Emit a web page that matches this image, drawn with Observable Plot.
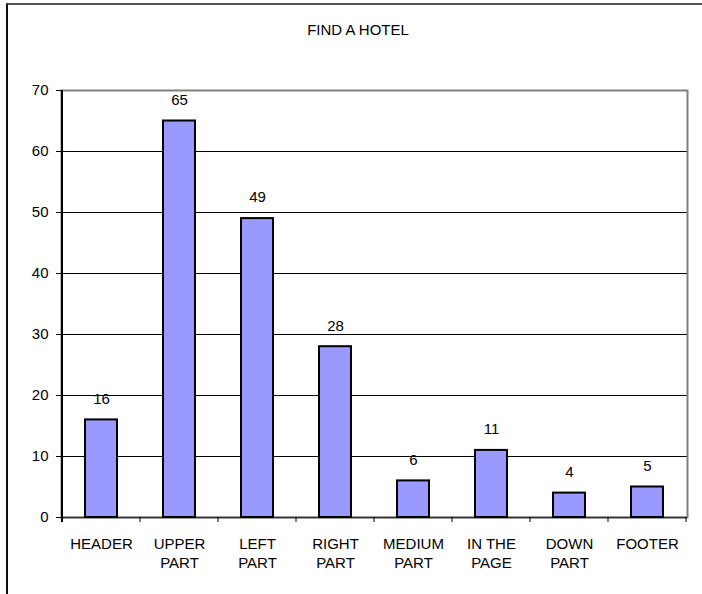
<!DOCTYPE html>
<html>
<head>
<meta charset="utf-8">
<script src="https://cdn.jsdelivr.net/npm/d3@7"></script>
<script src="https://cdn.jsdelivr.net/npm/@observablehq/plot@0.6"></script>
<style>
  html, body { margin: 0; padding: 0; background: #fff; }
  #page { position: relative; width: 702px; height: 594px; overflow: hidden;
          font-family: "Liberation Sans", Arial, sans-serif; }
  #border { position: absolute; left: 6px; top: 3px; right: -10px; bottom: -10px;
            border-top: 2px solid #555; border-left: 2px solid #111; }
  #title { position: absolute; left: 0; width: 716px; top: 21px; line-height: 17px;
           text-align: center; font-size: 15px; color: #000; }
  #chart { position: absolute; left: 0; top: 0; }
</style>
</head>
<body>
<div id="page">
  <div id="border"></div>
  <div id="title">FIND A HOTEL</div>
  <div id="chart"></div>
</div>
<script>
// Where visitors look for the hotel search on a page
const categories = ["HEADER", "UPPER PART", "LEFT PART", "RIGHT PART",
                    "MEDIUM PART", "IN THE PAGE", "DOWN PART", "FOOTER"];
const values = [16, 65, 49, 28, 6, 11, 4, 5];
const yTicks = [0, 10, 20, 30, 40, 50, 60, 70];

const data = categories.map((category, i) => ({category, value: values[i]}));

// break a two-word label onto two lines at its last space
const wrap = c => c.replace(/ (\S+)$/, "\n$1");

const plot = Plot.plot({
  width: 702,
  height: 594,
  marginLeft: 61,
  marginRight: 15,
  marginTop: 90,
  marginBottom: 77,
  style: {fontFamily: "'Liberation Sans', Arial, sans-serif", fontSize: "15px",
          color: "#000", background: "transparent", overflow: "visible"},
  x: {domain: categories, paddingInner: 0.59, paddingOuter: 0.295, align: 0.5},
  y: {domain: [0, 70]},
  marks: [
    Plot.gridY(yTicks.filter(t => t > 0 && t < 70), {stroke: "#000", strokeOpacity: 1, strokeWidth: 1}),
    Plot.frame({stroke: "#808080", strokeWidth: 2}),
    Plot.ruleY([0], {stroke: "#333", strokeWidth: 1.5}),
    Plot.barY(data, {x: "category", y: "value", fill: "#9999FF", stroke: "#000", strokeWidth: 2}),
    Plot.text(data, {x: "category", y: "value", text: d => String(d.value), dy: -21, fontSize: 15, fill: "#000"}),
    Plot.axisY({ticks: yTicks, tickSize: 5, tickPadding: 8, fontSize: 15, label: null, stroke: "#000"}),
    Plot.axisX({tickSize: 0, tickPadding: 18, fontSize: 15, lineHeight: 1.25, label: null, tickFormat: wrap})
  ]
});

document.getElementById("chart").append(plot);

// Left axis line and category boundary ticks, placed from Plot's own scales
const xs = plot.scale("x");
const ys = plot.scale("y");
const svg = d3.select(plot.tagName.toLowerCase() === "svg" ? plot : plot.querySelector("svg"));
const y0 = ys.apply(0);
const yTop = ys.apply(70);
const half = (xs.step - xs.bandwidth) / 2;
const bounds = categories.map(c => xs.apply(c) - half)
  .concat([xs.apply(categories[categories.length - 1]) + xs.bandwidth + half]);

const g = svg.append("g").attr("stroke", "#000").attr("fill", "none");
g.append("line")
  .attr("x1", bounds[0]).attr("x2", bounds[0])
  .attr("y1", yTop).attr("y2", y0 + 5)
  .attr("stroke-width", 2);
g.selectAll("line.bound")
  .data(bounds.slice(1))
  .join("line")
  .attr("class", "bound")
  .attr("x1", d => d).attr("x2", d => d)
  .attr("y1", y0).attr("y2", y0 + 5)
  .attr("stroke-width", 1);
</script>
</body>
</html>
